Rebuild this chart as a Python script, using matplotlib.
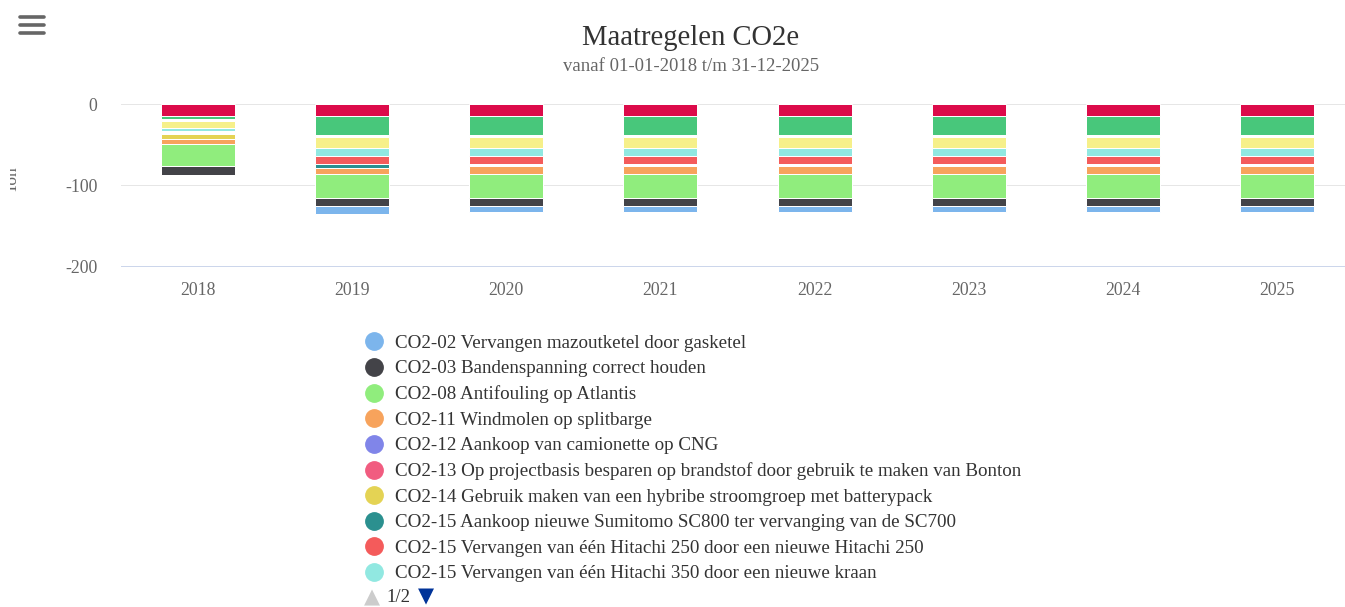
import numpy as np
import matplotlib
matplotlib.use("Agg")
import matplotlib.pyplot as plt
from matplotlib.lines import Line2D
from matplotlib.transforms import Bbox, TransformedBbox

plt.rcParams['font.family'] = ['Liberation Serif', 'DejaVu Sans']

# categories
years = ['2018', '2019', '2020', '2021', '2022', '2023', '2024', '2025']

# series on legend page 1 (stack order: first = furthest from zero)
co2_02 = [0.0, -9.0, -7.4, -7.4, -7.4, -7.4, -7.4, -7.4]
co2_03 = [-11.4, -10.4, -10.4, -10.4, -10.4, -10.4, -10.4, -10.4]
co2_08 = [-27.3, -29.4, -29.4, -29.4, -29.4, -29.4, -29.4, -29.4]
co2_11 = [-5.6, -7.8, -10.1, -10.1, -10.1, -10.1, -10.1, -10.1]
co2_12 = [0.0, 0.0, 0.0, 0.0, 0.0, 0.0, 0.0, 0.0]
co2_13 = [0.0, 0.0, 0.0, 0.0, 0.0, 0.0, 0.0, 0.0]
co2_14 = [-6.4, 0.0, 0.0, 0.0, 0.0, 0.0, 0.0, 0.0]
gap_b = [-4.1, 0.0, -1.9, -1.9, -1.9, -1.9, -1.9, -1.9]
co2_15_sumitomo = [0.0, -4.6, 0.0, 0.0, 0.0, 0.0, 0.0, 0.0]
co2_15_hitachi250 = [0.0, -9.6, -9.9, -9.9, -9.9, -9.9, -9.9, -9.9]
co2_15_hitachi350 = [-3.7, -9.9, -9.9, -9.9, -9.9, -9.9, -9.9, -9.9]
# series on legend page 2 (names not visible)
p2_yellow = [-7.9, -13.8, -13.8, -13.8, -13.8, -13.8, -13.8, -13.8]
gap_a = [-2.3, -2.5, -2.5, -2.5, -2.5, -2.5, -2.5, -2.5]
p2_green = [-4.2, -23.2, -23.2, -23.2, -23.2, -23.2, -23.2, -23.2]
p2_crimson = [-14.8, -15.1, -15.1, -15.1, -15.1, -15.1, -15.1, -15.1]

legend_names = [
    'CO2-02 Vervangen mazoutketel door gasketel',
    'CO2-03 Bandenspanning correct houden',
    'CO2-08 Antifouling op Atlantis',
    'CO2-11 Windmolen op splitbarge',
    'CO2-12 Aankoop van camionette op CNG',
    'CO2-13 Op projectbasis besparen op brandstof door gebruik te maken van Bonton',
    'CO2-14 Gebruik maken van een hybribe stroomgroep met batterypack',
    'CO2-15 Aankoop nieuwe Sumitomo SC800 ter vervanging van de SC700',
    'CO2-15 Vervangen van één Hitachi 250 door een nieuwe Hitachi 250',
    'CO2-15 Vervangen van één Hitachi 350 door een nieuwe kraan',
]
legend_colors = ['#7cb5ec', '#434348', '#90ed7d', '#f7a35c', '#8085e9',
                 '#f15c80', '#e4d354', '#2b908f', '#f45b5b', '#91e8e1']

stack = [
    (co2_02, '#7cb5ec'), (co2_03, '#434348'), (co2_08, '#90ed7d'),
    (co2_11, '#f7a35c'), (co2_12, '#8085e9'), (co2_13, '#f15c80'),
    (co2_14, '#e4d354'), (gap_b, '#ffffff'), (co2_15_sumitomo, '#2b908f'),
    (co2_15_hitachi250, '#f45b5b'), (co2_15_hitachi350, '#91e8e1'),
    (p2_yellow, '#f6f08a'), (gap_a, '#ffffff'), (p2_green, '#48c77b'),
    (p2_crimson, '#dc0b4a'),
]

W, H = 1345, 607
fig = plt.figure(figsize=(W / 100, H / 100), dpi=100)
ax = fig.add_axes([121 / W, 1 - 266 / H, 1233 / W, (266 - 104) / H])

x = np.arange(len(years))
# stack from zero outward: last series is closest to the axis
bottom = np.zeros(len(years))
for vals, col in reversed(stack):
    v = np.array(vals)
    ax.bar(x, v, bottom=bottom, width=0.48, color=col,
           edgecolor='white', linewidth=0.72)
    bottom = bottom + v

ax.set_xlim(-0.5, len(years) - 0.5)
ax.set_ylim(-200, 0)
ax.set_yticks([0, -100, -200])
ax.set_yticklabels(['0', '-100', '-200'])
ax.set_xticks(x)
ax.set_xticklabels(years)
ax.tick_params(axis='x', length=0, pad=11.5, labelsize=12.8, labelcolor='#666666')
ax.tick_params(axis='y', length=0, pad=17, labelsize=12.8, labelcolor='#666666')
ax.yaxis.grid(True, color='#e6e6e6', linewidth=0.72, zorder=0)
ax.set_axisbelow(True)
for s in ['top', 'left', 'right']:
    ax.spines[s].set_visible(False)
ax.spines['bottom'].set_color('#ccd6eb')
ax.spines['bottom'].set_linewidth(0.72)
for gl in ax.get_ygridlines():
    gl.set_clip_on(False)

# axis title, cut off on its left side
ylab = fig.text(17 / W, 1 - 180 / H, 'Ton', rotation=90, rotation_mode='anchor',
                ha='center', va='baseline', fontsize=12.5, color='#666666')
ylab.set_clip_box(TransformedBbox(Bbox([[10 / W, 0], [1, 1]]), fig.transFigure))
ylab.set_clip_on(True)

# titles
fig.text(691 / W, 1 - 45 / H, 'Maatregelen CO2e', ha='center', va='baseline',
         fontsize=20.6, color='#333333')
fig.text(691 / W, 1 - 71 / H, 'vanaf 01-01-2018 t/m 31-12-2025', ha='center',
         va='baseline', fontsize=13.5, color='#666666')

# menu icon
for yy in [17, 25, 33]:
    fig.add_artist(Line2D([20 / W, 44 / W], [1 - yy / H, 1 - yy / H],
                          color='#666666', linewidth=2.6,
                          solid_capstyle='round'))

# legend (page 1 of 2)
handles = [Line2D([], [], linestyle='none', marker='o', markersize=12.5,
                  markerfacecolor=c, markeredgecolor=c) for c in legend_colors]
leg = fig.legend(handles, legend_names, loc='upper left',
                 bbox_to_anchor=(364.5 / W, 1 - 334.5 / H), frameon=False,
                 fontsize=13.7, handlelength=1.0, handletextpad=0.6,
                 labelspacing=0.43, borderpad=0, borderaxespad=0)
for t in leg.get_texts():
    t.set_color('#333333')

fig.text(372 / W, 1 - 597 / H, '▲', ha='center', va='center', fontsize=15,
         color='#cccccc', family=['DejaVu Sans'])
fig.text(386 / W, 1 - 598 / H, '1/2', ha='left', va='center', fontsize=13.5,
         color='#333333')
fig.text(426 / W, 1 - 596 / H, '▼', ha='center', va='center', fontsize=15,
         color='#003399', family=['DejaVu Sans'])

fig.savefig('out.png', dpi=100)
